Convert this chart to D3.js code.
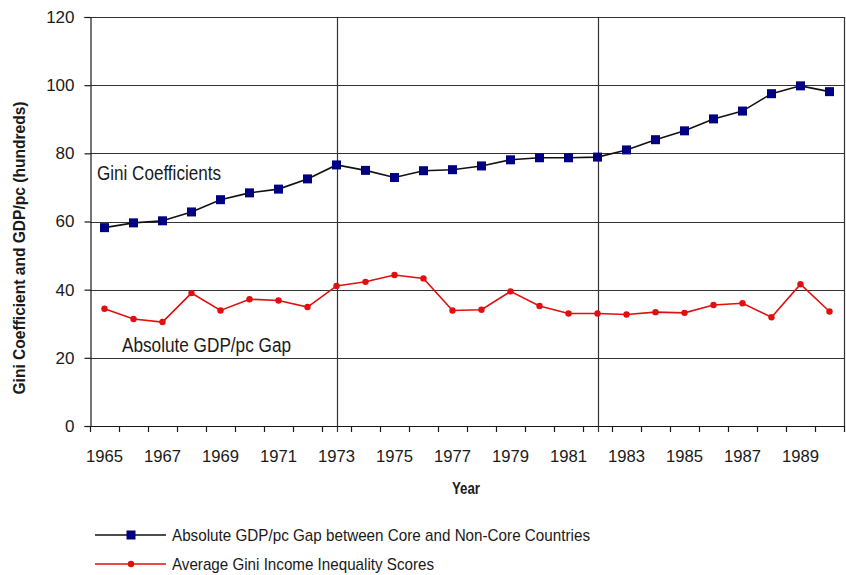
<!DOCTYPE html>
<html>
<head>
<meta charset="utf-8">
<script src="https://cdn.jsdelivr.net/npm/d3@7"></script>
<style>
  html, body { margin: 0; padding: 0; background: #fff; }
  svg { display: block; font-family: "Liberation Sans", Arial, sans-serif; }
</style>
</head>
<body>
<svg id="chart" width="846" height="575"></svg>
<script>
// ---- data ----
const years = [1965,1966,1967,1968,1969,1970,1971,1972,1973,1974,1975,1976,1977,
               1978,1979,1980,1981,1982,1983,1984,1985,1986,1987,1988,1989,1990];
const gdpGap = [58.2,59.6,60.2,62.8,66.4,68.4,69.5,72.5,76.6,75.0,72.9,74.9,75.2,
                76.3,78.1,78.7,78.7,78.9,81.0,84.0,86.6,90.1,92.4,97.5,99.8,98.1];
const gini =   [34.4,31.4,30.5,39.0,33.9,37.2,36.8,34.9,41.1,42.3,44.3,43.3,33.9,
                34.1,39.5,35.2,33.0,33.0,32.7,33.4,33.2,35.5,36.0,31.9,41.6,33.6];
const yTicks = [0,20,40,60,80,100,120];
const xTickLabels = [1965,1967,1969,1971,1973,1975,1977,1979,1981,1983,1985,1987,1989];
const periodMarks = [1973,1982];
const seriesNames = ["Absolute GDP/pc Gap between Core and Non-Core Countries",
                     "Average Gini Income Inequality Scores"];
const annotations = ["Gini Coefficients", "Absolute GDP/pc Gap"];
const yTitle = "Gini Coefficient and GDP/pc (hundreds)";
const xTitle = "Year";

// ---- layout ----
const svg = d3.select("#chart");
const L = 90, R = 844, T = 17, B = 426;
const x = d3.scaleBand().domain(years).range([L, R]).padding(0);
const cx = d => x(d) + x.bandwidth() / 2;
const y = d3.scaleLinear().domain([0, 120]).range([B, T]);

const BLUE = "#000080", RED = "#e10f0f", INK = "#1a1a1a";

// gridlines
svg.append("g").selectAll("line").data(yTicks.filter(v => v > 0)).join("line")
  .attr("x1", L).attr("x2", R)
  .attr("y1", d => Math.round(y(d)) + 0.5).attr("y2", d => Math.round(y(d)) + 0.5)
  .attr("stroke", "#333").attr("stroke-width", 1.2);

// right border
svg.append("line").attr("x1", R + 0.5).attr("x2", R + 0.5).attr("y1", T).attr("y2", B)
  .attr("stroke", "#333").attr("stroke-width", 1.2);

// period vertical lines
svg.append("g").selectAll("line").data(periodMarks).join("line")
  .attr("x1", d => Math.round(cx(d)) + 0.5).attr("x2", d => Math.round(cx(d)) + 0.5)
  .attr("y1", T).attr("y2", B + 6)
  .attr("stroke", "#333").attr("stroke-width", 1.2);

// y axis
const yAxis = d3.axisLeft(y).tickValues(yTicks).tickSize(6).tickPadding(10).tickFormat(d3.format("d"));
const gy = svg.append("g").attr("transform", `translate(${L + 0.5},0)`).call(yAxis);
gy.select(".domain").attr("stroke", INK).attr("stroke-width", 1.2);
gy.selectAll(".tick line").attr("stroke", INK).attr("stroke-width", 1.2);
gy.selectAll(".tick text").attr("font-size", 17).attr("fill", INK)
  .attr("font-family", "'Liberation Sans', Arial, sans-serif");

// x axis: ticks at category boundaries
const boundaries = years.map(d => x(d)).concat([R]);
const gx = svg.append("g");
gx.append("line").attr("x1", L).attr("x2", R).attr("y1", B + 0.5).attr("y2", B + 0.5)
  .attr("stroke", INK).attr("stroke-width", 1.2);
gx.selectAll("line.tk").data(boundaries).join("line").attr("class", "tk")
  .attr("x1", d => Math.round(d) + 0.5).attr("x2", d => Math.round(d) + 0.5)
  .attr("y1", B).attr("y2", B + 6)
  .attr("stroke", INK).attr("stroke-width", 1.2);
gx.selectAll("text").data(xTickLabels).join("text")
  .attr("x", d => cx(d)).attr("y", 462)
  .attr("text-anchor", "middle").attr("font-size", 17).attr("fill", INK)
  .attr("textLength", 37).attr("lengthAdjust", "spacingAndGlyphs")
  .text(d => d);

// lines
const line = d3.line().x((d, i) => cx(years[i])).y(d => y(d));
svg.append("path").datum(gdpGap).attr("d", line)
  .attr("fill", "none").attr("stroke", "#111").attr("stroke-width", 1.6);
svg.append("path").datum(gini).attr("d", line)
  .attr("fill", "none").attr("stroke", RED).attr("stroke-width", 1.6);

// markers
const S = 9;
svg.append("g").selectAll("rect").data(gdpGap).join("rect")
  .attr("x", (d, i) => cx(years[i]) - S / 2).attr("y", d => y(d) - S / 2)
  .attr("width", S).attr("height", S).attr("fill", BLUE);
svg.append("g").selectAll("circle").data(gini).join("circle")
  .attr("cx", (d, i) => cx(years[i])).attr("cy", d => y(d)).attr("r", 3.2)
  .attr("fill", RED);

// annotations
svg.append("text").attr("x", 97).attr("y", 180).attr("font-size", 19.5).attr("fill", INK)
  .attr("textLength", 124).attr("lengthAdjust", "spacingAndGlyphs").text(annotations[0]);
svg.append("text").attr("x", 122).attr("y", 352).attr("font-size", 19.5).attr("fill", INK)
  .attr("textLength", 169).attr("lengthAdjust", "spacingAndGlyphs").text(annotations[1]);

// axis titles
svg.append("text").attr("transform", `translate(25,248) rotate(-90)`)
  .attr("text-anchor", "middle").attr("font-size", 16).attr("font-weight", "bold").attr("fill", INK)
  .attr("textLength", 293).attr("lengthAdjust", "spacingAndGlyphs").text(yTitle);
svg.append("text").attr("x", 466).attr("y", 494)
  .attr("text-anchor", "middle").attr("font-size", 16).attr("font-weight", "bold").attr("fill", INK)
  .attr("textLength", 28).attr("lengthAdjust", "spacingAndGlyphs").text(xTitle);

// legend
const lg = svg.append("g");
const rows = [535, 564];
lg.append("line").attr("x1", 95).attr("x2", 166).attr("y1", rows[0]).attr("y2", rows[0])
  .attr("stroke", "#111").attr("stroke-width", 1.6);
lg.append("rect").attr("x", 131 - S / 2).attr("y", rows[0] - S / 2).attr("width", S).attr("height", S)
  .attr("fill", BLUE);
lg.append("line").attr("x1", 95).attr("x2", 166).attr("y1", rows[1]).attr("y2", rows[1])
  .attr("stroke", RED).attr("stroke-width", 1.6);
lg.append("circle").attr("cx", 131).attr("cy", rows[1]).attr("r", 3.2).attr("fill", RED);
lg.append("text").attr("x", 172).attr("y", rows[0] + 6).attr("font-size", 17).attr("fill", INK)
  .attr("textLength", 418).attr("lengthAdjust", "spacingAndGlyphs").text(seriesNames[0]);
lg.append("text").attr("x", 172).attr("y", rows[1] + 6).attr("font-size", 17).attr("fill", INK)
  .attr("textLength", 262).attr("lengthAdjust", "spacingAndGlyphs").text(seriesNames[1]);
</script>
</body>
</html>
